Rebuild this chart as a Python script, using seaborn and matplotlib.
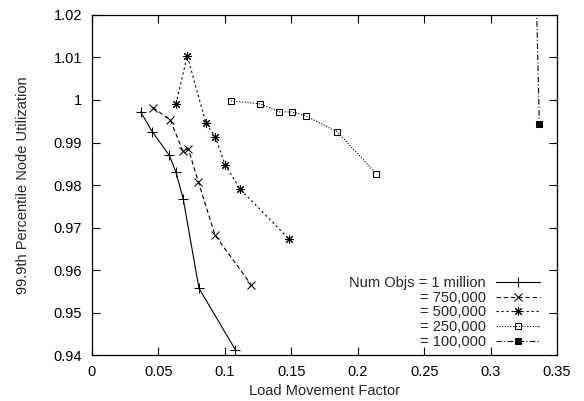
import numpy as np
import pandas as pd
import seaborn as sns
import matplotlib.pyplot as plt

# data
x_1m = [0.0366, 0.0454, 0.0582, 0.0632, 0.0687, 0.0805, 0.1080]
y_1m = [0.9972, 0.9925, 0.9870, 0.9830, 0.9767, 0.9557, 0.9412]

x_750k = [0.0459, 0.0590, 0.0682, 0.0725, 0.0800, 0.0926, 0.1199]
y_750k = [0.9982, 0.9953, 0.9881, 0.9885, 0.9808, 0.9682, 0.9565]

x_500k = [0.0632, 0.0717, 0.0858, 0.0926, 0.1003, 0.1116, 0.1483]
y_500k = [0.9991, 1.0104, 0.9945, 0.9914, 0.9847, 0.9790, 0.9673]

x_250k = [0.1046, 0.1264, 0.1410, 0.1503, 0.1608, 0.1846, 0.2138]
y_250k = [0.9998, 0.9991, 0.9972, 0.9972, 0.9963, 0.9925, 0.9827]

x_100k = [0.3310, 0.3367]
y_100k = [1.0700, 0.9943]

labels = ["Num Objs = 1 million", "= 750,000", "= 500,000", "= 250,000", "= 100,000"]

sns.set_theme(style="ticks")
plt.rcParams['font.family'] = ['Liberation Sans', 'DejaVu Sans']

fs = 10.5
fig = plt.figure(figsize=(5.84, 4.01), dpi=100)
ax = fig.add_axes([0.1575, 0.1147, 0.7963, 0.8479])

common = dict(ax=ax, color="black", linewidth=0.8, sort=False, estimator=None,
              markeredgecolor="black", markeredgewidth=0.75)

sns.lineplot(x=x_1m, y=y_1m, marker="+", markersize=6.5,
             linestyle="-", label=labels[0], **common)
sns.lineplot(x=x_750k, y=y_750k, marker="x", markersize=5.5,
             linestyle=(0, (4, 2.5)), label=labels[1], **common)
sns.lineplot(x=x_500k, y=y_500k, marker=(8, 2, 0), markersize=6.5,
             linestyle=(0, (2, 2.5)), label=labels[2], **common)
sns.lineplot(x=x_250k, y=y_250k, marker="s", markersize=5,
             markerfacecolor="none", linestyle=(0, (1, 1.5)), label=labels[3], **common)
sns.lineplot(x=x_100k, y=y_100k, marker="s", markersize=5,
             markerfacecolor="black", linestyle=(0, (5, 2, 1, 2)), label=labels[4], **common)

ax.set_xlim(0, 0.35)
ax.set_ylim(0.94, 1.02)
xt = [0, 0.05, 0.1, 0.15, 0.2, 0.25, 0.3, 0.35]
ax.set_xticks(xt)
ax.set_xticklabels(["0", "0.05", "0.1", "0.15", "0.2", "0.25", "0.3", "0.35"])
yt = [0.94, 0.95, 0.96, 0.97, 0.98, 0.99, 1.0, 1.01, 1.02]
ax.set_yticks(yt)
ax.set_yticklabels(["0.94", "0.95", "0.96", "0.97", "0.98", "0.99", "1", "1.01", "1.02"])

ax.tick_params(direction="in", length=6, width=0.8, top=True, right=True,
               labelsize=fs, colors="black", pad=7)
for s in ax.spines.values():
    s.set_visible(True)
    s.set_color("black")
    s.set_linewidth(0.9)

ax.set_xlabel("Load Movement Factor", fontsize=fs, labelpad=4)
ax.set_ylabel("99.9th Percentile Node Utilization", fontsize=fs, labelpad=17)

leg = ax.legend(loc="lower right", bbox_to_anchor=(0.985, -0.012), frameon=False,
                markerfirst=False, fontsize=fs, handlelength=3.0,
                labelspacing=0.05, handletextpad=0.7, borderaxespad=0.3)

fig.savefig("out.png", dpi=100)
